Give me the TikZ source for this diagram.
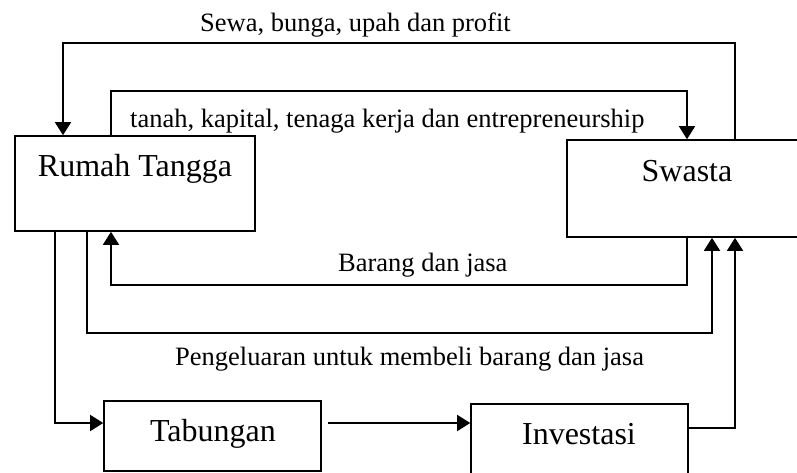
\documentclass[tikz,border=0pt]{standalone}
\usepackage{fontspec}
\setmainfont{Liberation Serif}
\usetikzlibrary{arrows.meta}
\begin{document}
\begin{tikzpicture}[x=1pt,y=-1pt,
  box/.style={draw,line width=1.6pt,minimum width=#1,inner sep=0pt},
  big/.style={anchor=base,inner sep=0pt,font=\fontsize{32}{38}\selectfont},
  lab/.style={anchor=base west,inner sep=0pt,font=\fontsize{26.5}{31}\selectfont},
  arr/.style={line width=1.6pt,-{Triangle[width=16pt,length=13pt]}},
  ln/.style={line width=1.6pt}]
\useasboundingbox (0,0) rectangle (797,472);
\clip (0,0) rectangle (797,472);
% boxes
\node[box=240pt,minimum height=95pt] (rt) at (135,183.5) {};
\node[box=240pt,minimum height=97pt] (sw) at (687,188.5) {};
\node[box=217pt,minimum height=70pt] (tb) at (212.5,436) {};
\node[box=217pt,minimum height=86pt] (inv) at (579.5,447) {};
% box texts
\node[big] (rtT) at (135,176) {Rumah Tangga};
\node[big] (swT) at (687,181) {Swasta};
\node[big] (tbT) at (213,441) {Tabungan};
\node[big] (invT) at (579,444) {Investasi};
% labels
\node[lab] (l1) at (200,31) {Sewa, bunga, upah dan profit};
\node[lab] (l2) at (130,127) {tanah, kapital, tenaga kerja dan entrepreneurship};
\node[lab] (l3) at (338,271) {Barang dan jasa};
\node[lab] (l4) at (175,365) {Pengeluaran untuk membeli barang dan jasa};
% connectors
\draw[arr] ([xshift=48pt]sw.north) -- ++(0,-96) -| ([xshift=-72pt]rt.north);
\draw[arr] ([xshift=-24pt]rt.north) -- ++(0,-44) -| (sw.north);
\draw[arr] (sw.south) -- ++(0,47) -| ([xshift=-24pt]rt.south);
\draw[arr] ([xshift=-48pt]rt.south) -- ++(0,101) -| ([xshift=25pt]sw.south);
\draw[arr] ([xshift=-80pt]rt.south) |- ([yshift=13pt]tb.west);
\coordinate (tbo) at ([shift={(6pt,13pt)}]tb.east);
\draw[arr] (tbo) -- (tbo -| inv.west);
\draw[arr] ([yshift=19pt]inv.east) -| ([xshift=48pt]sw.south);
\end{tikzpicture}
\end{document}
